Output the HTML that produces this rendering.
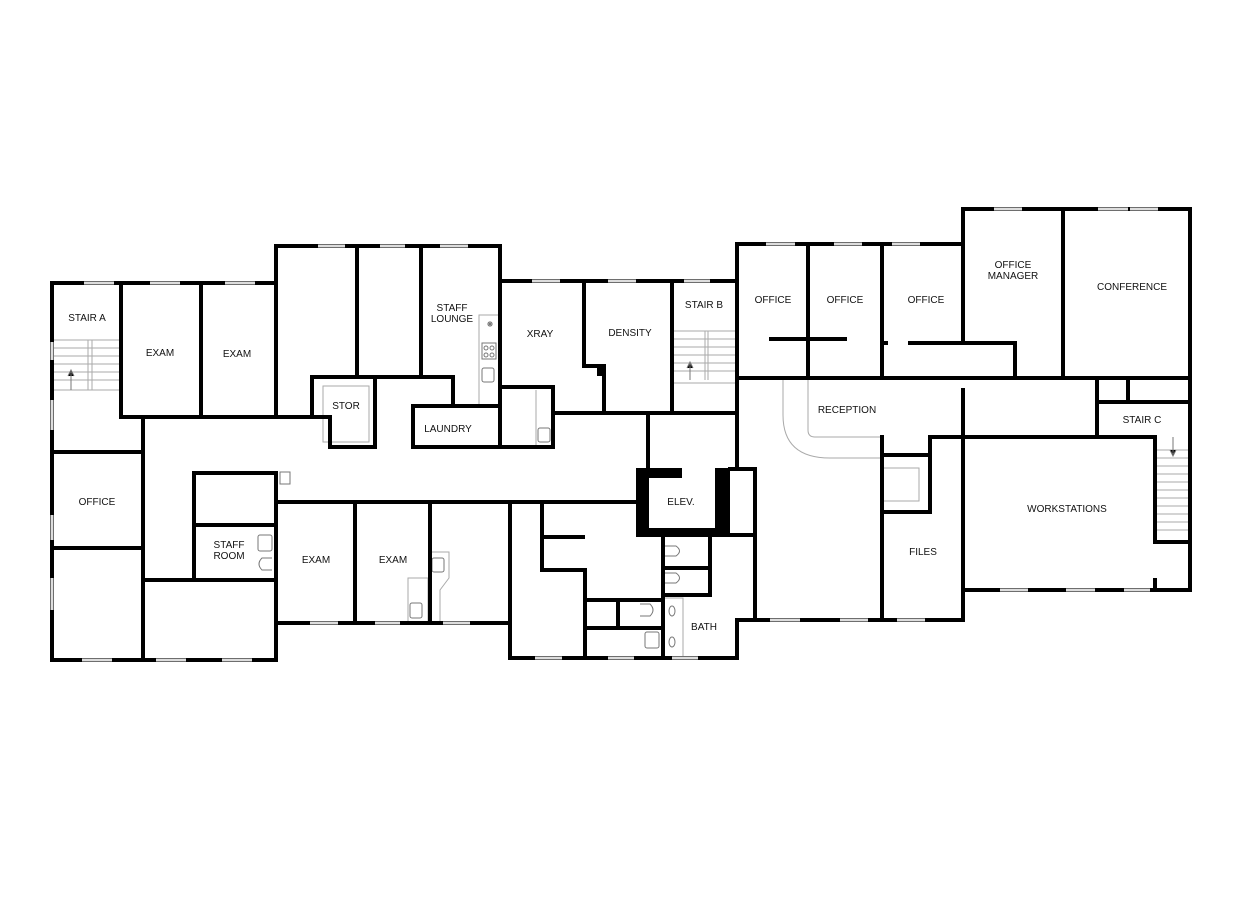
<!DOCTYPE html>
<html><head><meta charset="utf-8"><style>
html,body{margin:0;padding:0;background:#fff;}
svg{display:block}
text{font-family:"Liberation Sans",sans-serif;font-size:10px;fill:#111;text-anchor:middle}
</style></head><body>
<svg width="1243" height="900" viewBox="0 0 1243 900">
<!-- fixtures / stairs (grey) -->
<g stroke="#aaa" stroke-width="1" fill="none">
<path d="M52 340H121M52 348H121M52 356H121M52 364H121M52 372H121M52 380H121M52 390H121M88 340V390M92 340V390"/>
<path d="M672 331H737M672 339H737M672 347H737M672 355H737M672 363H737M672 371H737M672 383H737M705 331V380M708 331V380"/>
<path d="M1157 450H1190M1157 458H1190M1157 466H1190M1157 474H1190M1157 482H1190M1157 490H1190M1157 498H1190M1157 506H1190M1157 514H1190M1157 522H1190M1157 530H1190"/>
<path d="M783 380V415Q783 458 830 458H880M808 380V430Q808 437 815 437H880"/>
<rect x="883" y="468" width="36" height="33"/>
<rect x="323" y="386" width="46" height="56"/>
<rect x="479" y="315" width="20" height="90"/>
<rect x="408" y="578" width="20" height="45"/><path d="M432 552H449V578L440 590V622"/>
<rect x="663" y="598" width="20" height="60"/>
<path d="M536 390V445"/>
</g>
<g stroke="#777" stroke-width="1" fill="none">
<rect x="482" y="368" width="12" height="14" rx="2"/><rect x="482" y="343" width="14" height="16"/>
<circle cx="486" cy="348" r="2"/><circle cx="492" cy="348" r="2"/><circle cx="486" cy="355" r="2"/><circle cx="492" cy="355" r="2"/>
<rect x="538" y="428" width="12" height="14" rx="2"/>
<rect x="258" y="535" width="14" height="16" rx="2"/><path d="M272 558H262Q256 564 262 570H272"/>
<rect x="280" y="472" width="10" height="12"/>
<rect x="432" y="558" width="12" height="14" rx="2"/><rect x="410" y="603" width="12" height="15" rx="2"/>
<path d="M665 546H676Q683 551 676 556H665M665 573H676Q683 578 676 583H665M640 604H650Q656 610 650 616H640"/>
<rect x="645" y="632" width="14" height="16" rx="2"/>
<ellipse cx="672" cy="611" rx="3" ry="5"/><ellipse cx="672" cy="642" rx="3" ry="5"/>
<path d="M488 322l4 4M492 322l-4 4M490 321v6M487 324h6"/>
<path d="M71 390V372M68 376L71 370L74 376" fill="#000"/>
<path d="M690 380V363M687 368L690 362L693 368" fill="#000"/>
<path d="M1173 437V454M1170 450L1173 456L1176 450" fill="#000"/>
</g>
<!-- walls -->
<g stroke="#000" stroke-width="4" fill="none" stroke-linecap="square">
<path d="M52 283H276V246H500V281H737V244H963V209H1190V590H963V620H755V620H737V658H510V623H276V660H52Z"/>
<path d="M121 283V417M201 283V417M121 417H330V447H375V377M312 377V417M276 246V417M357 246V377M421 246V377M312 377H453V406M413 406H500M413 406V447H553M500 246V447M500 387H553V447"/>
<path d="M143 417V660M52 452H143M52 548H143M143 580H276M194 473H276M194 525H276M194 473V580M276 473V660"/>
<path d="M276 502H637M355 502V623M430 502V623M510 502V658"/>
<path d="M584 282V366H600M604 366V413M672 282V413M553 413H737M648 414V470M737 282V468"/>
<path d="M542 502V570H585V658M542 537H583M585 600H663M618 600V628M585 628H663M663 535V658M663 568H710M710 535V595M663 595H710M737 620V658"/>
<path d="M730 469H755V620M730 535H755"/>
<path d="M808 244V378M882 244V378M737 378H1190M771 339H845M910 343H1015V378M882 343H886M963 209V343M1063 209V378"/>
<path d="M1097 378V437M1097 402H1190M1128 378V402M930 437H1155M963 390V590M930 437V512M882 455H930M882 512H930M882 437V620M1155 437V542H1190M1155 580V590"/>
</g>
<!-- elevator thick walls -->
<g fill="#000">
<rect x="636" y="468" width="13" height="69"/><rect x="636" y="468" width="46" height="10"/>
<rect x="715" y="468" width="15" height="69"/><rect x="636" y="528" width="94" height="9"/>
<rect x="597" y="364" width="8" height="12"/>
</g>
<!-- windows -->
<g stroke="#ddd" stroke-width="3">
<path d="M84 283H114M150 283H180M225 283H255M318 246H345M380 246H405M440 246H468M532 281H560M608 281H636M684 281H710M766 244H795M834 244H862M892 244H920M994 209H1022M1098 209H1128M1130 209H1158"/>
<path d="M52 342V360M52 400V430M52 515V540M52 578V610M82 660H112M156 660H186M222 660H252M310 623H338M375 623H400M443 623H470M535 658H562M608 658H634M672 658H698M770 620H800M840 620H868M897 620H925M1000 590H1028M1066 590H1095M1124 590H1150"/>
</g>
<!-- labels -->
<text x="87" y="321">STAIR A</text>
<text x="160" y="356">EXAM</text>
<text x="237" y="357">EXAM</text>
<text x="452" y="311">STAFF</text><text x="452" y="322">LOUNGE</text>
<text x="346" y="409">STOR</text>
<text x="448" y="432">LAUNDRY</text>
<text x="540" y="337">XRAY</text>
<text x="630" y="336">DENSITY</text>
<text x="704" y="308">STAIR B</text>
<text x="773" y="303">OFFICE</text>
<text x="845" y="303">OFFICE</text>
<text x="926" y="303">OFFICE</text>
<text x="1013" y="268">OFFICE</text><text x="1013" y="279">MANAGER</text>
<text x="1132" y="290">CONFERENCE</text>
<text x="847" y="413">RECEPTION</text>
<text x="1142" y="423">STAIR C</text>
<text x="97" y="505">OFFICE</text>
<text x="229" y="548">STAFF</text><text x="229" y="559">ROOM</text>
<text x="316" y="563">EXAM</text>
<text x="393" y="563">EXAM</text>
<text x="681" y="505">ELEV.</text>
<text x="1067" y="512">WORKSTATIONS</text>
<text x="923" y="555">FILES</text>
<text x="704" y="630">BATH</text>
</g>
</svg>
</body></html>
